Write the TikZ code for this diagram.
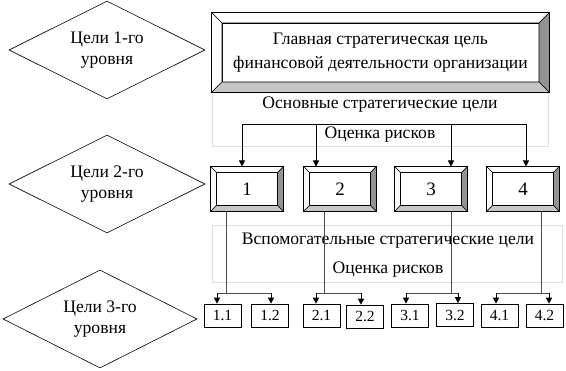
\documentclass[tikz,border=0pt]{standalone}
\usepackage{fontspec}
\setmainfont{Liberation Serif}
\usetikzlibrary{shapes.geometric,arrows.meta,calc}
\newcommand\bevelaround[2]{%
  \coordinate (#1-onw) at ($(#1.north west)+(-#2,-#2)$);
  \coordinate (#1-one) at ($(#1.north east)+(#2,-#2)$);
  \coordinate (#1-ose) at ($(#1.south east)+(#2,#2)$);
  \coordinate (#1-osw) at ($(#1.south west)+(-#2,#2)$);
  \filldraw[bev,fill=white] (#1-onw) -- (#1-one) -- (#1.north east) -- (#1.north west) -- cycle;
  \filldraw[bev,fill=white] (#1-onw) -- (#1.north west) -- (#1.south west) -- (#1-osw) -- cycle;
  \filldraw[bev,fill=gray!85] (#1-one) -- (#1-ose) -- (#1.south east) -- (#1.north east) -- cycle;
  \filldraw[bev,fill=gray!45] (#1-osw) -- (#1-ose) -- (#1.south east) -- (#1.south west) -- cycle;
}
\begin{document}
\begin{tikzpicture}[x=1pt,y=-1pt,
  bev/.style={draw=black,line width=0.6pt},
  lvl/.style={diamond,draw,line width=0.6pt,shape aspect=2,inner sep=0pt,minimum width=196pt,minimum height=98pt,align=center,font=\fontsize{17.6}{21}\selectfont},
  inbox/.style={rectangle,draw,line width=0.6pt,fill=white,inner sep=0pt,outer sep=0pt,align=center},
  bigbox/.style={inbox,minimum width=317pt,minimum height=59pt,font=\fontsize{17.6}{23.5}\selectfont},
  numbox/.style={inbox,minimum width=61pt,minimum height=33pt,font=\fontsize{19}{20}\selectfont},
  smallbox/.style={rectangle,draw,line width=0.6pt,minimum width=37pt,minimum height=23pt,inner sep=0pt,font=\fontsize{15.5}{16}\selectfont},
  lbl/.style={inner sep=0pt,font=\fontsize{17.6}{20}\selectfont},
  ghost/.style={draw=black!12,line width=0.5pt},
  conn/.style={line width=0.7pt,draw=black},
  conn2/.style={line width=0.7pt,draw=black!70},
  arr/.style={-{Triangle[length=6pt,width=6pt]}}
]
\useasboundingbox (0,0) rectangle (566,371);

% level diamonds
\node[lvl] (d1) at (107,50) {Цели 1-го\\уровня};
\node[lvl] (d2) at (107,184) {Цели 2-го\\уровня};
\node[lvl,minimum width=194pt] (d3) at (100,319) {Цели 3-го\\уровня};

% ghost frames
\path[ghost] (212,92) rectangle (548,146);
\path[ghost] (212,225) rectangle (562,282);

% main goal box
\node[bigbox] (g) at (380.5,52.5) {Главная стратегическая цель\\финансовой деятельности организации};
\bevelaround{g}{10.5}

% texts
\node[lbl] (t1) at (380,105) {Основные стратегические цели};
\node[lbl] (t2) at (380,135) {Оценка рисков};
\node[lbl] (t3) at (388,241) {Вспомогательные стратегические цели};
\node[lbl] (t4) at (388,270) {Оценка рисков};

% level 2 boxes
\node[numbox] (b1) at (247,189) {1};
\node[numbox] (b2) at (340,189) {2};
\node[numbox] (b3) at (431,189) {3};
\node[numbox] (b4) at (523,189) {4};
\foreach \n in {b1,b2,b3,b4} {\bevelaround{\n}{6}}

% level 3 boxes
\node[smallbox] (s11) at (222.5,315.5) {1.1};
\node[smallbox] (s12) at (270,315.5) {1.2};
\node[smallbox] (s21) at (321.5,315.5) {2.1};
\node[smallbox] (s22) at (365,316.5) {2.2};
\node[smallbox] (s31) at (410,315.5) {3.1};
\node[smallbox] (s32) at (455,315) {3.2};
\node[smallbox] (s41) at (499.5,315.5) {4.1};
\node[smallbox] (s42) at (544.5,315.5) {4.2};

% top connectors
\coordinate (a1) at (242,124);
\coordinate (a2) at (316,124);
\coordinate (a3) at (451,124);
\coordinate (a4) at (526,124);
\draw[conn] (a1) -- (a4);
\draw[conn,arr] (a1) -- (a1 |- b1-onw);
\draw[conn,arr] (a2) -- (a2 |- b2-onw);
\draw[conn,arr] (a3) -- (a3 |- b3-onw);
\draw[conn,arr] (a4) -- (a4 |- b4-onw);

% bottom connectors
\coordinate (v1) at (226,293);
\coordinate (v2) at (324,293);
\coordinate (v3) at (451,293);
\coordinate (v4) at (541,293);
\draw[conn2] (v1 |- b1-osw) -- (v1);
\draw[conn2] (v2 |- b2-osw) -- (v2);
\draw[conn2] (v3 |- b3-osw) -- (v3);
\draw[conn2] (v4 |- b4-osw) -- (v4);

\coordinate (h11) at (217,293); \coordinate (h12) at (271,293);
\coordinate (h21) at (316,293); \coordinate (h22) at (361,293);
\coordinate (h31) at (406,293); \coordinate (h32) at (458,293);
\coordinate (h41) at (496,293); \coordinate (h42) at (549,293);
\draw[conn2] (h11) -- (h12);
\draw[conn2] (h21) -- (h22);
\draw[conn2] (h31) -- (h32);
\draw[conn2] (h41) -- (h42);
\draw[conn,arr] (h11) -- (h11 |- s11.north);
\draw[conn,arr] (h12) -- (h12 |- s12.north);
\draw[conn,arr] (h21) -- (h21 |- s21.north);
\draw[conn,arr] (h22) -- (h22 |- s22.north);
\draw[conn,arr] (h31) -- (h31 |- s31.north);
\draw[conn,arr] (h32) -- (h32 |- s32.north);
\draw[conn,arr] (h41) -- (h41 |- s41.north);
\draw[conn,arr] (h42) -- (h42 |- s42.north);
\end{tikzpicture}
\end{document}
